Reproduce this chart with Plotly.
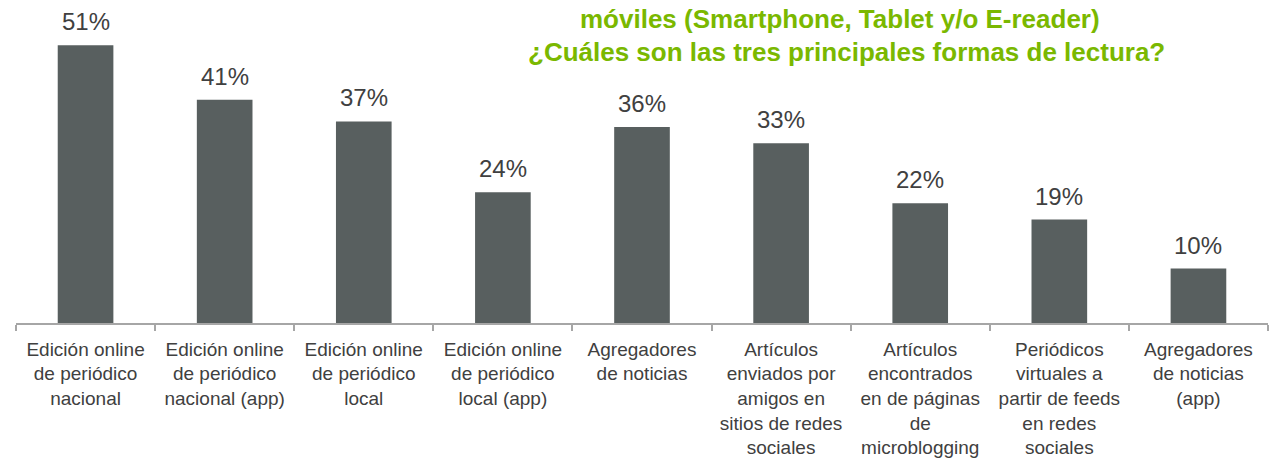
import plotly.graph_objects as go

categories = [
    "Edición online<br>de periódico<br>nacional",
    "Edición online<br>de periódico<br>nacional (app)",
    "Edición online<br>de periódico<br>local",
    "Edición online<br>de periódico<br>local (app)",
    "Agregadores<br>de noticias",
    "Artículos<br>enviados por<br>amigos en<br>sitios de redes<br>sociales",
    "Artículos<br>encontrados<br>en de páginas<br>de<br>microblogging",
    "Periódicos<br>virtuales a<br>partir de feeds<br>en redes<br>sociales",
    "Agregadores<br>de noticias<br>(app)",
]
values = [51, 41, 37, 24, 36, 33, 22, 19, 10]
labels = [f"{v}%" for v in values]

title_lines = [
    "móviles (Smartphone, Tablet y/o E-reader)",
    "¿Cuáles son las tres principales formas de lectura?",
]

BAR = "#585f5f"
TXT = "#404040"
GREEN = "#7ab800"
FONT = "Liberation Sans, Arial, sans-serif"

fig = go.Figure()
fig.add_trace(go.Bar(
    x=categories, y=values, marker=dict(color=BAR, line=dict(width=0)),
    hoverinfo="skip",
))

annotations = []
for c, v, t in zip(categories, values, labels):
    annotations.append(dict(
        x=c, y=v, xref="x", yref="y", text=t, showarrow=False,
        yanchor="bottom", yshift=8, font=dict(family=FONT, size=24, color=TXT),
    ))

annotations.append(dict(
    x=0.658, y=0.941, xref="paper", yref="paper", text=f"<b>{title_lines[0]}</b>",
    showarrow=False, xanchor="center", yanchor="middle",
    font=dict(family=FONT, size=26, color=GREEN),
))
annotations.append(dict(
    x=0.663, y=0.839, xref="paper", yref="paper", text=f"<b>{title_lines[1]}</b>",
    showarrow=False, xanchor="center", yanchor="middle",
    font=dict(family=FONT, size=26, color=GREEN),
))

fig.update_layout(
    width=1274, height=459,
    margin=dict(l=16, r=6, t=0, b=136),
    paper_bgcolor="white", plot_bgcolor="white",
    bargap=0.6,
    showlegend=False,
    annotations=annotations,
    font=dict(family=FONT, color=TXT),
)
fig.update_xaxes(
    type="category", showline=True, linecolor="#a6a6a6", linewidth=1.5,
    ticks="outside", tickson="boundaries", ticklen=6, tickcolor="#a6a6a6", tickwidth=1.5,
    tickfont=dict(family=FONT, size=19, color=TXT), showgrid=False, tickangle=0,
    automargin=False, ticklabelstandoff=8,
)
fig.update_yaxes(range=[0, 59.3], visible=False, showgrid=False, zeroline=False,
                 automargin=False)

fig.write_html(
    "out.html",
    config={"displayModeBar": False},
    post_script="document.body.style.margin='0';document.body.style.overflow='hidden';",
)
